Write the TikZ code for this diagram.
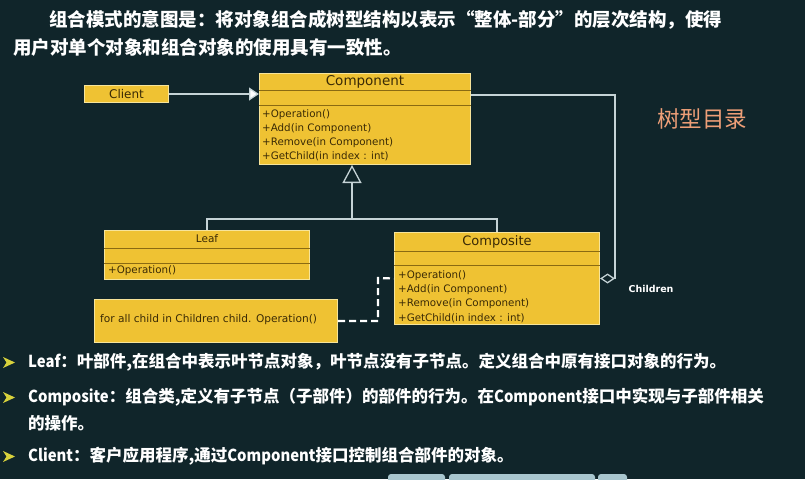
\documentclass[tikz,border=0pt]{standalone}
\usepackage{fontspec}
\setmainfont{DejaVu Sans}
\newfontfamily\cjk{Noto Sans CJK SC}
\newfontfamily\cjklat{Noto Sans CJK SC}[FakeStretch=0.9]
\newcommand\lt[1]{{\cjklat\bfseries #1}}
\usetikzlibrary{arrows.meta,calc}
\definecolor{bg}{HTML}{10252A}
\definecolor{boxfill}{HTML}{EFC233}
\definecolor{boxedge}{HTML}{F7E49A}
\definecolor{divider}{HTML}{8A6A12}
\definecolor{boxtext}{HTML}{3A2A05}
\definecolor{conncol}{HTML}{C5D3D6}
\definecolor{orangetxt}{HTML}{EE9F78}
\definecolor{bulletcol}{HTML}{D8D23C}
\definecolor{uibtn}{HTML}{A8C6CE}
\begin{document}
\begin{tikzpicture}[x=1pt,y=-1pt,
 umlbox/.style={draw=boxedge, fill=boxfill, line width=1pt, inner sep=0, anchor=north west, text=boxtext},
 divline/.style={draw=divider, line width=1pt},
 umltext/.style={text=boxtext, inner sep=0, font=\fontsize{10.3}{14}\selectfont},
 conn/.style={draw=conncol, line width=1.3pt},
 dashconn/.style={draw=white, line width=2.2pt, dash pattern=on 7pt off 4pt},
 cntext/.style={text=white, inner sep=0, anchor=west, font=\cjk\bfseries\fontsize{16.5}{20}\selectfont},
 titletext/.style={text=white, inner sep=0, anchor=west, font=\cjk\bfseries\fontsize{18.5}{20}\selectfont},
 bulletshape/.style={fill=bulletcol},
]
\fill[bg] (0,0) rectangle (805,479);
\useasboundingbox (0,0) rectangle (805,479);

% title
\node[titletext] (t1) at (49,20) {组合模式的意图是：将对象组合成树型结构以表示“整体-部分”的层次结构，使得};
\node[titletext] (t2) at (13,47) {用户对单个对象和组合对象的使用具有一致性。};

% Component
\node[umlbox, minimum width=211pt, minimum height=91pt] (comp) at (259,73) {};
\draw[divline] ($(comp.north west)+(0,17)$) -- ($(comp.north east)+(0,17)$);
\draw[divline] ($(comp.north west)+(0,32)$) -- ($(comp.north east)+(0,32)$);
\node[umltext, font=\fontsize{13.5}{15}\selectfont] (compname) at ($(comp.north)+(0,9)$) {Component};
\node[umltext, anchor=west, align=left] (compops) at (262,135) {+Operation()\\+Add(in Component)\\+Remove(in Component)\\+GetChild(in index : int)};

% Client
\node[umlbox, minimum width=84pt, minimum height=17pt, font=\fontsize{12}{14}\selectfont] (client) at (84,85) {Client};

% Leaf
\node[umlbox, minimum width=205pt, minimum height=49pt] (leaf) at (104,230) {};
\draw[divline] ($(leaf.north west)+(0,18)$) -- ($(leaf.north east)+(0,18)$);
\draw[divline] ($(leaf.north west)+(0,33)$) -- ($(leaf.north east)+(0,33)$);
\node[umltext, font=\fontsize{10.5}{13}\selectfont] (leafname) at ($(leaf.north)+(0,9)$) {Leaf};
\node[umltext, anchor=west] (leafops) at (108,271) {+Operation()};

% Composite
\node[umlbox, minimum width=205pt, minimum height=92pt] (composite) at (394,232) {};
\draw[divline] ($(composite.north west)+(0,19)$) -- ($(composite.north east)+(0,19)$);
\draw[divline] ($(composite.north west)+(0,33)$) -- ($(composite.north east)+(0,33)$);
\node[umltext, font=\fontsize{13}{15}\selectfont] (compositename) at ($(composite.north)+(0,10)$) {Composite};
\node[umltext, anchor=west, align=left, font=\fontsize{10.3}{14.3}\selectfont] (compositeops) at (398,296.5) {+Operation()\\+Add(in Component)\\+Remove(in Component)\\+GetChild(in index : int)};

% Note
\node[umlbox, minimum width=243pt, minimum height=43pt] (note) at (94,299) {};
\node[umltext, anchor=west, font=\fontsize{10.6}{13}\selectfont] (notetext) at (100,320) {for all child in Children child. Operation()};

% connectors
\draw[conn, -{Triangle[fill=white, length=10pt, width=13pt]}] (client.east) -- (client.east -| comp.west);
\coordinate (bar) at (352,219);
\draw[conn] (leaf.north) |- (bar) -| (composite.north);
\draw[conn, -{Triangle[fill=bg, length=18pt, width=19pt]}] (bar) -- (bar |- comp.south);
\draw[conn, {Diamond[fill=bg, length=15pt, width=10pt]}-] (composite.east) -- ++(15,0) |- ($(comp.north east)+(0,22)$);
\coordinate (dk) at (378,278);
\draw[dashconn] (note.east) -| (dk) -- (composite.west);

% labels
\node[text=white, inner sep=0, font=\bfseries\fontsize{9.5}{12}\selectfont] (children) at (651,289) {Children};
\node[text=orangetxt, inner sep=0, font=\cjk\fontsize{22.5}{24}\selectfont] (tree) at (702,119) {树型目录};

% bullets
\fill[bulletshape] (3,357) -- (15,362.5) -- (3,368) -- (6.5,362.5) -- cycle;
\fill[bulletshape] (3,392) -- (15,397.5) -- (3,403) -- (6.5,397.5) -- cycle;
\fill[bulletshape] (3,451) -- (15,456.5) -- (3,462) -- (6.5,456.5) -- cycle;
\node[cntext] (l1) at (28,362) {\lt{Leaf}：叶部件,在组合中表示叶节点对象，叶节点没有子节点。定义组合中原有接口对象的行为。};
\node[cntext] (l2) at (28,397) {\lt{Composite}：组合类,定义有子节点（子部件）的部件的行为。在\lt{Component}接口中实现与子部件相关};
\node[cntext] (l2b) at (28,423) {的操作。};
\node[cntext] (l3) at (28,456) {\lt{Client}：客户应用程序,通过\lt{Component}接口控制组合部件的对象。};

% partial player buttons at the bottom edge
\fill[uibtn, rounded corners=3pt] (388,474) rectangle (445,486);
\fill[uibtn, rounded corners=3pt] (449,474) rectangle (595,486);
\fill[uibtn, rounded corners=3pt] (598,474) rectangle (627,486);
\end{tikzpicture}
\end{document}
